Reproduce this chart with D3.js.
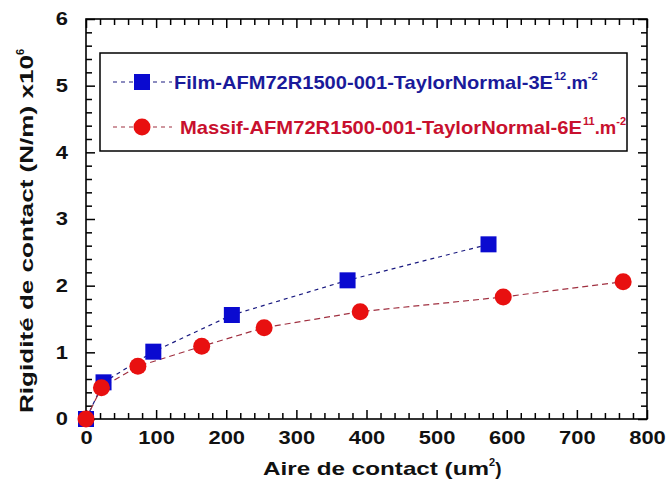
<!DOCTYPE html>
<html><head><meta charset="utf-8">
<script src="https://cdn.jsdelivr.net/npm/d3@7"></script>
<style>body{margin:0;background:#fff}svg{display:block}text{font-family:"Liberation Sans",Arial,sans-serif;font-weight:bold}</style>
</head><body>
<script>
const filmX = [0, 25, 96, 208, 373, 574];
const filmY = [0, 0.55, 1.01, 1.56, 2.08, 2.62];
const massifX = [0, 22, 74, 165, 254, 391, 595, 766];
const massifY = [0, 0.47, 0.79, 1.09, 1.37, 1.61, 1.83, 2.06];
const xTicks = [0, 100, 200, 300, 400, 500, 600, 700, 800];
const yTicks = [0, 1, 2, 3, 4, 5, 6];
const legendLabels = [
  {main: "Film-AFM72R1500-001-TaylorNormal-3E", sup1: "12", mid: ".m", sup2: "-2"},
  {main: "Massif-AFM72R1500-001-TaylorNormal-6E", sup1: "11", mid: ".m", sup2: "-2"}
];
const xTitle = "Aire de contact (um";
const yTitle = "Rigidité de contact (N/m) x10";

const W = 668, H = 481;
const m = {l: 86, r: 21, t: 19, b: 62};
const svg = d3.select("body").append("svg").attr("width", W).attr("height", H);
const x = d3.scaleLinear().domain([0, 800]).range([m.l, W - m.r]);
const y = d3.scaleLinear().domain([0, 6]).range([H - m.b, m.t]);
const x0 = m.l, x1 = W - m.r, y0 = H - m.b, y1 = m.t;

const xMinor = d3.range(0, 801, 20).filter(v => v % 100 !== 0);
const yMinor = d3.range(0, 6.01, 0.2).map(v => +v.toFixed(1)).filter(v => Math.abs(v - Math.round(v)) > 1e-6);

function styleAxis(g){ g.select(".domain").remove(); g.selectAll("line").attr("stroke","#000").attr("stroke-width",1.5); }
function styleLabels(g){
  g.selectAll("text").attr("font-size",18).attr("fill","#111")
   .each(function(){ const s=d3.select(this); s.attr("textLength", s.text().length*12.2).attr("lengthAdjust","spacingAndGlyphs"); });
}

svg.append("g").attr("transform",`translate(0,${y0})`)
  .call(d3.axisBottom(x).tickValues(xTicks).tickSize(-9).tickPadding(12).tickFormat(d3.format("d")))
  .call(styleAxis).call(styleLabels);
svg.append("g").attr("transform",`translate(0,${y0})`)
  .call(d3.axisBottom(x).tickValues(xMinor).tickSize(-6).tickFormat(""))
  .call(styleAxis);
svg.append("g").attr("transform",`translate(0,${y1})`)
  .call(d3.axisTop(x).tickValues(xTicks).tickSize(-9).tickFormat("")).call(styleAxis);
svg.append("g").attr("transform",`translate(0,${y1})`)
  .call(d3.axisTop(x).tickValues(xMinor).tickSize(-6).tickFormat("")).call(styleAxis);
svg.append("g").attr("transform",`translate(${x0},0)`)
  .call(d3.axisLeft(y).tickValues(yTicks).tickSize(-9).tickPadding(18).tickFormat(d3.format("d")))
  .call(styleAxis).call(styleLabels);
svg.append("g").attr("transform",`translate(${x0},0)`)
  .call(d3.axisLeft(y).tickValues(yMinor).tickSize(-6).tickFormat("")).call(styleAxis);
svg.append("g").attr("transform",`translate(${x1},0)`)
  .call(d3.axisRight(y).tickValues(yTicks).tickSize(-9).tickFormat("")).call(styleAxis);
svg.append("g").attr("transform",`translate(${x1},0)`)
  .call(d3.axisRight(y).tickValues(yMinor).tickSize(-6).tickFormat("")).call(styleAxis);

svg.append("rect").attr("x",x0).attr("y",y1).attr("width",x1-x0).attr("height",y0-y1)
  .attr("fill","none").attr("stroke","#000").attr("stroke-width",1.6);

const line = d3.line().x(d=>x(d[0])).y(d=>y(d[1]));
const film = filmX.map((v,i)=>[v, filmY[i]]);
const massif = massifX.map((v,i)=>[v, massifY[i]]);

svg.append("path").datum(film).attr("d",line).attr("fill","none")
  .attr("stroke","#1a1a80").attr("stroke-width",1.2).attr("stroke-dasharray","4,4");
svg.append("path").datum(massif).attr("d",line).attr("fill","none")
  .attr("stroke","#a03040").attr("stroke-width",1.2).attr("stroke-dasharray","6,4");

const sq = 16, rr = 8.5;
svg.append("g").selectAll("rect").data(film).join("rect")
  .attr("x",d=>x(d[0])-sq/2).attr("y",d=>y(d[1])-sq/2).attr("width",sq).attr("height",sq)
  .attr("fill","#0a0ad0");
svg.append("g").selectAll("circle").data(massif).join("circle")
  .attr("cx",d=>x(d[0])).attr("cy",d=>y(d[1])).attr("r",rr).attr("fill","#e81010");

const lg = svg.append("g");
lg.append("rect").attr("x",100).attr("y",53).attr("width",527).attr("height",98)
  .attr("fill","#fff").attr("stroke","#000").attr("stroke-width",1.5);
const rows = [
  {cy: 82, stroke:"#1a1a80", fill:"#0a0ad0", text:"#1a1a9a", shape:"sq", x:174, len:379},
  {cy: 127, stroke:"#a03040", fill:"#e81010", text:"#c8102e", shape:"c", x:180, len:402}
];
rows.forEach((r,i)=>{
  lg.append("line").attr("x1",113).attr("x2",172).attr("y1",r.cy).attr("y2",r.cy)
    .attr("stroke",r.stroke).attr("stroke-width",1.2).attr("stroke-dasharray","4,4");
  if(r.shape==="sq") lg.append("rect").attr("x",142-sq/2).attr("y",r.cy-sq/2).attr("width",sq).attr("height",sq).attr("fill",r.fill);
  else lg.append("circle").attr("cx",142).attr("cy",r.cy).attr("r",rr).attr("fill",r.fill);
  const L = legendLabels[i];
  const t = lg.append("text").attr("x", r.x).attr("y",r.cy+7).attr("font-size",18.5).attr("fill",r.text);
  t.append("tspan").attr("textLength",r.len).attr("lengthAdjust","spacingAndGlyphs").text(L.main);
  t.append("tspan").attr("font-size",11).attr("dx",1).attr("dy",-9).text(L.sup1);
  t.append("tspan").attr("dy",9).text(L.mid);
  t.append("tspan").attr("font-size",11).attr("dy",-9).text(L.sup2);
});

const xt = svg.append("text").attr("x",263).attr("y",475).attr("font-size",19).attr("fill","#111");
xt.append("tspan").attr("textLength",226).attr("lengthAdjust","spacingAndGlyphs").text(xTitle);
xt.append("tspan").attr("font-size",11).attr("dy",-9).text("2");
xt.append("tspan").attr("dy",9).text(")");

const yt = svg.append("text").attr("transform","translate(33,413) rotate(-90)").attr("font-size",19).attr("fill","#111");
yt.append("tspan").attr("textLength",358).attr("lengthAdjust","spacingAndGlyphs").text(yTitle);
yt.append("tspan").attr("font-size",11).attr("dy",-9).text("6");
</script>
</body></html>
